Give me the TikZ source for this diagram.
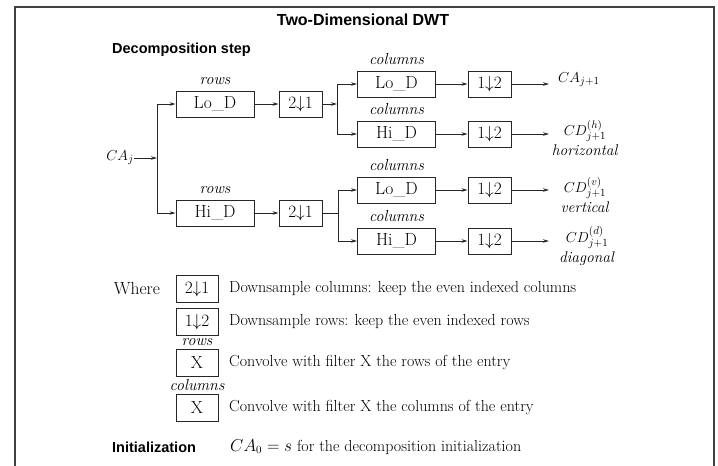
\documentclass[tikz,border=0pt]{standalone}
\usepackage{fontspec}
\newfontfamily\headfont{Liberation Sans}
\usepackage{tikz}
\usetikzlibrary{arrows.meta,positioning}

\newcommand{\dn}[2]{$#1{\downarrow}#2$}

\begin{document}
\begin{tikzpicture}[x=1pt, y=-1pt,
    block/.style={draw=black!85, line width=0.9pt, minimum width=78pt, minimum height=26pt, inner sep=0pt, font=\fontsize{17.5}{20}\selectfont},
    sampler/.style={block, minimum width=43pt},
    keybox/.style={block, minimum width=42pt, minimum height=27pt},
    tag/.style={font=\fontsize{16}{18}\selectfont\itshape, inner sep=0pt},
    note/.style={font=\fontsize{16}{18}\selectfont, anchor=west, inner sep=0pt},
    result/.style={font=\fontsize{15.5}{20}\selectfont, align=center, inner sep=0pt},
    heading/.style={font=\fontsize{14.5}{17}\selectfont\headfont\bfseries, inner sep=0pt},
    arrow/.style={-{Stealth[length=6pt,width=3.5pt]}, line width=0.9pt, draw=black!85},
    wire/.style={line width=0.9pt, draw=black!85}
  ]
    \useasboundingbox (0,0) rectangle (718,466);
    \draw[line width=1.6pt, black!75] (15,466) -- (15,7) -- (714,7) -- (714,466);

    \node[heading, font=\fontsize{16}{19}\selectfont\headfont\bfseries] (title) at (363,20) {Two-Dimensional DWT};
    \node[heading, anchor=west] (step) at (112,50) {Decomposition step};

    \node[inner sep=0pt, font=\fontsize{15}{18}\selectfont] (caj) at (120,158) {$CA_j$};
    \coordinate (split1) at (157,158);
    \node[block] (lor) at (215,104) {Lo\_D};
    \node[block] (hir) at (215,213) {Hi\_D};
    \node[tag, above=6pt of lor, anchor=base] {rows};
    \node[tag, above=6pt of hir, anchor=base] {rows};
    \node[sampler] (dsc1) at (300.5,104) {\dn21};
    \node[sampler] (dsc2) at (300.5,213) {\dn21};
    \coordinate (split2) at (337,104);
    \coordinate (split3) at (338,213);

    \node[block] (loc1) at (396.5,84) {Lo\_D};
    \node[block] (hic1) at (396.5,134) {Hi\_D};
    \node[block] (loc2) at (396.5,190) {Lo\_D};
    \node[block] (hic2) at (396.5,241) {Hi\_D};
    \node[tag, above=6pt of loc1, anchor=base] {columns};
    \node[tag, above=6pt of hic1, anchor=base] {columns};
    \node[tag, above=6pt of loc2, anchor=base] {columns};
    \node[tag, above=6pt of hic2, anchor=base] {columns};
    \node[sampler] (dsr1) at (489.5,84) {\dn12};
    \node[sampler] (dsr2) at (489.5,134) {\dn12};
    \node[sampler] (dsr3) at (489.5,190) {\dn12};
    \node[sampler] (dsr4) at (489.5,241) {\dn12};
    \coordinate (end1) at (549,84);
    \coordinate (end2) at (549,134);
    \coordinate (end3) at (549,190);
    \coordinate (end4) at (549,241);

    \node[result, anchor=west] (ca) at (558,80) {$CA_{j+1}$};
    \node[result] (cdh) at (585,138) {$CD^{(h)}_{j+1}$\\\textit{horizontal}};
    \node[result] (cdv) at (585,195) {$CD^{(v)}_{j+1}$\\\textit{vertical}};
    \node[result] (cdd) at (587,246) {$CD^{(d)}_{j+1}$\\\textit{diagonal}};

    \draw[arrow] (caj) -- (split1);
    \draw[arrow] (split1) |- (lor);
    \draw[arrow] (split1) |- (hir);
    \draw[arrow] (lor) -- (dsc1);
    \draw[arrow] (hir) -- (dsc2);
    \draw[arrow] (dsc1) -- (split2);
    \draw[wire] (dsc2) -- (split3);
    \draw[arrow] (split2) |- (loc1);
    \draw[arrow] (split2) |- (hic1);
    \draw[arrow] (split3) |- (loc2);
    \draw[arrow] (split3) |- (hic2);
    \draw[arrow] (loc1) -- (dsr1);
    \draw[arrow] (hic1) -- (dsr2);
    \draw[arrow] (loc2) -- (dsr3);
    \draw[arrow] (hic2) -- (dsr4);
    \draw[arrow] (dsr1) -- (end1);
    \draw[arrow] (dsr2) -- (end2);
    \draw[arrow] (dsr3) -- (end3);
    \draw[arrow] (dsr4) -- (end4);

    \node[inner sep=0pt, font=\fontsize{17.5}{20}\selectfont] (where) at (137,289) {Where};
    \node[keybox] (key1) at (197,289) {\dn21};
    \node[note] (txt1) at (229,289) {Downsample columns: keep the even indexed columns};
    \node[keybox] (key2) at (197,322) {\dn12};
    \node[note] (txt2) at (229,322) {Downsample rows: keep the even indexed rows};
    \node[keybox] (key3) at (197,362.5) {X};
    \node[tag, above=3pt of key3, anchor=base] {rows};
    \node[note] (txt3) at (229,362.5) {Convolve with filter X the rows of the entry};
    \node[keybox] (key4) at (197,408) {X};
    \node[tag, above=3.5pt of key4, anchor=base] {columns};
    \node[note] (txt4) at (229,408) {Convolve with filter X the columns of the entry};

    \node[heading, anchor=west] (init) at (112,447) {Initialization};
    \node[note] (txt5) at (230,447) {$CA_0 = s$ for the decomposition initialization};
  \end{tikzpicture}
\end{document}
